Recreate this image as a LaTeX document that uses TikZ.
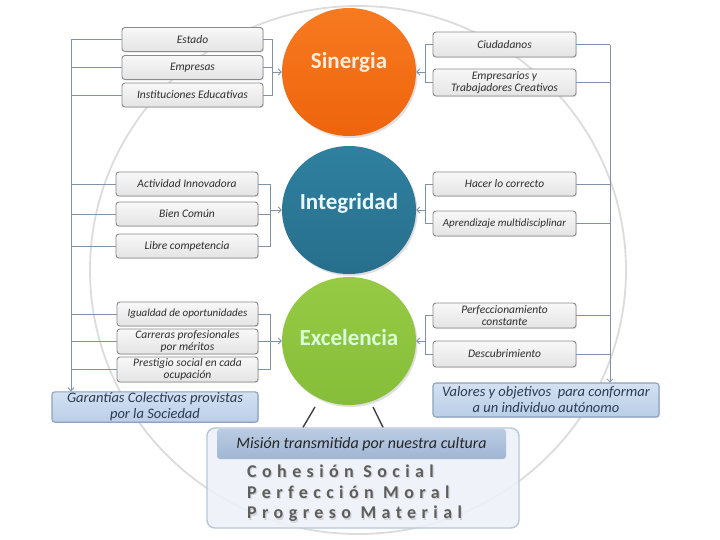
\documentclass[tikz,border=0pt]{standalone}
\usepackage{fontspec}
\setmainfont{Carlito}
\newfontfamily\spacedfont[LetterSpace=30]{Carlito}
\usetikzlibrary{shapes.geometric,arrows.meta,shadows}
\definecolor{arccol}{HTML}{DCDCDC}
\definecolor{linecol}{HTML}{7F93A8}
\definecolor{boxdraw}{HTML}{8A8A8A}
\definecolor{boxtop}{HTML}{F8F8F8}
\definecolor{boxbot}{HTML}{E4E4E4}
\definecolor{txtcol}{HTML}{2E2E2E}
\definecolor{bluetop}{HTML}{D3E1F2}
\definecolor{bluebot}{HTML}{BACEE7}
\definecolor{bluedraw}{HTML}{8DA2BC}
\definecolor{bluetxt}{HTML}{2A3B52}
\definecolor{orgtop}{HTML}{F77A20}
\definecolor{orgbot}{HTML}{EE640C}
\definecolor{tealtop}{HTML}{2F80A0}
\definecolor{tealbot}{HTML}{276F8C}
\definecolor{grntop}{HTML}{96CA44}
\definecolor{grnbot}{HTML}{86BE39}
\definecolor{panelfill}{HTML}{EDF2F9}
\definecolor{paneldraw}{HTML}{B7C7DA}
\definecolor{headtop}{HTML}{BACCE3}
\definecolor{headbot}{HTML}{A0B6D3}
\definecolor{spacedcol}{HTML}{5E5E5E}
\tikzset{
  gbox/.style={draw=boxdraw, line width=0.9pt, rounded corners=3pt,
    top color=boxtop, bottom color=boxbot,
    drop shadow={opacity=0.2, shadow xshift=1pt, shadow yshift=-1pt},
    minimum width=141pt, minimum height=24pt, inner sep=1pt, align=center,
    text=txtcol, font=\itshape\fontsize{11.5}{11.5}\selectfont},
  bluebox/.style={draw=bluedraw, line width=1.1pt, rounded corners=3pt,
    top color=bluetop, bottom color=bluebot,
    drop shadow={opacity=0.2, shadow xshift=1pt, shadow yshift=-1pt},
    inner sep=1pt, align=center, text=bluetxt,
    font=\itshape\fontsize{14.5}{16}\selectfont},
  disc/.style={ellipse, minimum width=134pt, minimum height=128pt, inner sep=0pt,
    drop shadow={opacity=0.25, shadow xshift=1.5pt, shadow yshift=-2pt}},
  disctext/.style={font=\bfseries\fontsize{23}{25}\selectfont, inner sep=0pt},
  conn/.style={draw=linecol, line width=0.8pt},
  arr/.style={conn, -{Straight Barb[length=3pt,width=6pt]}},
  spacedtext/.style={anchor=west, inner sep=0pt, text=spacedcol,
    font=\spacedfont\bfseries\fontsize{18}{20}\selectfont},
}
\begin{document}
\begin{tikzpicture}[x=1pt,y=-1pt]
\useasboundingbox (0,0) rectangle (720,539);
\fill[white] (0,0) rectangle (720,539);

% big background ring
\draw[arccol, line width=1.8pt] (358,270) ellipse [x radius=268pt, y radius=264pt];

% circles
\node[disc, top color=orgtop, bottom color=orgbot] (sin) at (349,72) {};
\node[disc, top color=tealtop, bottom color=tealbot] (int) at (349,210) {};
\node[disc, top color=grntop, bottom color=grnbot] (exc) at (349,341) {};
\node[disctext, text=white!85!orange] (sinT) at (349,62) {Sinergia};
\node[disctext, text=white!92!cyan] (intT) at (349,203) {Integridad};
\node[disctext, text=white!85!green] (excT) at (349,338) {Excelencia};

% left boxes
\node[gbox] (e1) at (192.5,39.5) {Estado};
\node[gbox] (e2) at (192.5,67.5) {Empresas};
\node[gbox] (e3) at (192.5,95) {Instituciones Educativas};
\node[gbox, minimum width=142pt] (i1) at (187,184) {Actividad Innovadora};
\node[gbox, minimum width=142pt] (i2) at (187,214) {Bien Común};
\node[gbox, minimum width=142pt] (i3) at (187,246) {Libre competencia};
\node[gbox] (x1) at (187.5,314) {\fontsize{11}{11}\selectfont Igualdad de oportunidades};
\node[gbox, minimum height=25pt] (x2) at (187.5,341.5) {Carreras profesionales\\por méritos};
\node[gbox, minimum height=25pt] (x3) at (187.5,369.5) {Prestigio social en cada\\ocupación};

% right boxes
\node[gbox, minimum width=143pt, minimum height=25pt] (r1) at (504.5,44.5) {Ciudadanos};
\node[gbox, minimum width=143pt, minimum height=27pt] (r2) at (504.5,82.5) {Empresarios y\\Trabajadores Creativos};
\node[gbox, minimum width=143pt] (j1) at (504.5,184) {Hacer lo correcto};
\node[gbox, minimum width=143pt, minimum height=25pt] (j2) at (504.5,223.5) {\fontsize{11}{11}\selectfont Aprendizaje multidisciplinar};
\node[gbox, minimum width=143pt, minimum height=25pt] (y1) at (504.5,315.5) {Perfeccionamiento\\constante};
\node[gbox, minimum width=143pt, minimum height=26pt] (y2) at (504.5,354) {Descubrimiento};

% result boxes
\node[bluebox, minimum width=206pt, minimum height=30pt] (gar) at (155,407) {Garantías Colectivas provistas\\por la Sociedad};
\node[bluebox, minimum width=226pt, minimum height=34pt] (val) at (546,400) {Valores y objetivos\ \ para conformar\\a un individuo autónomo};

% bottom panel
\node[draw=paneldraw, line width=1.4pt, rounded corners=8pt, fill=panelfill, fill opacity=0.88,
  minimum width=312pt, minimum height=100pt, inner sep=0pt] (pan) at (363,478) {};
\node[rounded corners=3pt, top color=headtop, bottom color=headbot,
  minimum width=289pt, minimum height=30pt, inner sep=0pt, text=black!85,
  font=\itshape\fontsize{16}{18}\selectfont] (head) at (361.5,444) {Misión transmitida por nuestra cultura};
\node[spacedtext, text=black!25, opacity=0.6] (s1) at (248.2,472.2) {Cohesión Social};
\node[spacedtext, text=black!25, opacity=0.6] (s2) at (248.2,493.2) {Perfección Moral};
\node[spacedtext, text=black!25, opacity=0.6] (s3) at (248.2,515.2) {Progreso Material};
\node[spacedtext] (t1) at (247,471) {Cohesión Social};
\node[spacedtext] (t2) at (247,492) {Perfección Moral};
\node[spacedtext] (t3) at (247,514) {Progreso Material};

% connectors from Excelencia to panel
\coordinate (c1) at (315,407);
\coordinate (c2) at (373,407);
\draw[black!75, line width=1.4pt] (c1) -- ([xshift=-12pt]c1 |- pan.north);
\draw[black!75, line width=1.4pt] (c2) -- ([xshift=10pt]c2 |- pan.north);

% left trunk
\coordinate (LT) at (71,39.5);
\draw[arr] (LT) -- (LT |- gar.north);
\foreach \n in {e1,e2,e3,i1,i2,i3,x1,x2,x3}{
  \draw[conn] (\n.west) -- (\n.west -| LT);
}
% right trunk
\coordinate (RT) at (610,44.5);
\draw[arr] (RT) -- (RT |- val.north);
\foreach \n in {r1,r2,j1,j2,y1,y2}{
  \draw[conn] (\n.east) -- (\n.east -| RT);
}

% left brackets
\coordinate (bS) at (272,0);
\coordinate (bI) at (270,0);
\draw[conn] (e1.east) -- (e1.east -| bS) -- (e3.east -| bS) -- (e3.east);
\draw[conn] (e2.east) -- (e2.east -| bS);
\draw[arr] (sin.west -| bS) -- (sin.west);
\draw[conn] (i1.east) -- (i1.east -| bI) -- (i3.east -| bI) -- (i3.east);
\draw[conn] (i2.east) -- (i2.east -| bI);
\draw[arr] (int.west -| bI) -- (int.west);
\draw[conn] (x1.east) -- (x1.east -| bI) -- (x3.east -| bI) -- (x3.east);
\draw[conn] (x2.east) -- (x2.east -| bI);
\draw[arr] (exc.west -| bI) -- (exc.west);

% right brackets
\coordinate (bR) at (425,0);
\draw[conn] (r1.west) -- (r1.west -| bR) -- (r2.west -| bR) -- (r2.west);
\draw[arr] (sin.east -| bR) -- (sin.east);
\draw[conn] (j1.west) -- (j1.west -| bR) -- (j2.west -| bR) -- (j2.west);
\draw[arr] (int.east -| bR) -- (int.east);
\draw[conn] (y1.west) -- (y1.west -| bR) -- (y2.west -| bR) -- (y2.west);
\draw[arr] (exc.east -| bR) -- (exc.east);
\end{tikzpicture}
\end{document}
